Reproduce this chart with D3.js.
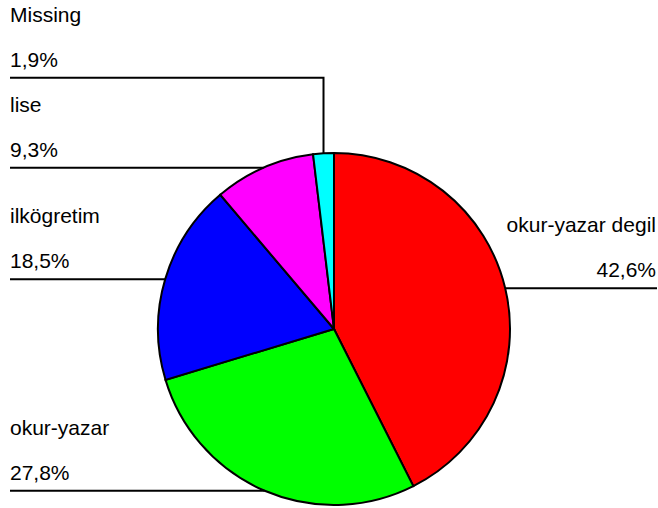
<!DOCTYPE html>
<meta charset="utf-8">
<title>Egitim durumu</title>
<style>

body {
  margin: 0;
  background: #fff;
  font-family: Arial, "Liberation Sans", Helvetica, sans-serif;
}

svg text {
  font-size: 21px;
  fill: #000;
}

.slice {
  stroke: #000;
  stroke-width: 2px;
}

.leader {
  fill: none;
  stroke: #000;
  stroke-width: 2px;
}

</style>

<body>
  <div id='graph'></div>
</body>

<script src="https://cdn.jsdelivr.net/npm/d3@7/dist/d3.min.js"></script>
<script>

var categories = ['okur-yazar degil', 'okur-yazar', 'ilkögretim', 'lise', 'Missing'],
    values     = [42.6, 27.8, 18.5, 9.3, 1.9],
    colors     = ['#ff0000', '#00ff00', '#0000ff', '#ff00ff', '#00ffff']

var width = 658, height = 508,
    cx = 334, cy = 329, r = 176,
    leftX = 10, rightX = 657, minGap = 90,
    fmt = function(v){ return d3.format('.1f')(v).replace('.', ',') + '%' }

var svg = d3.select('#graph').append('svg')
    .attr('width', width)
    .attr('height', height)

var data = categories.map(function(c, i){
  return {name: c, value: values[i], color: colors[i]}
})

var pie = d3.pie().sort(null).value(function(d){ return d.value }),
    arc = d3.arc().innerRadius(0).outerRadius(r),
    arcs = pie(data)

var g = svg.append('g').attr('transform', 'translate(' + cx + ',' + cy + ')')

g.selectAll('path.slice')
  .data(arcs)
  .enter().append('path')
    .attr('class', 'slice')
    .attr('fill', function(d){ return d.data.color })
    .attr('d', arc)

// anchor on the rim at the middle of each slice
arcs.forEach(function(d){
  var a = (d.startAngle + d.endAngle)/2
  d.ax = cx + r*Math.sin(a)
  d.ay = cy - r*Math.cos(a)
  d.left = d.ax < cx
  d.ly = d.ay
})

// push left labels upward so they keep apart
var left = arcs.filter(function(d){ return d.left })
  .sort(function(a, b){ return b.ay - a.ay })
left.forEach(function(d, i){
  if (i > 0) d.ly = Math.min(d.ay, left[i - 1].ly - minGap)
})

svg.selectAll('path.leader')
  .data(arcs)
  .enter().append('path')
    .attr('class', 'leader')
    .attr('d', function(d){
      var x0 = d.left ? leftX : rightX
      if (d.ly === d.ay) return 'M' + x0 + ',' + d.ly + 'H' + d.ax
      return 'M' + x0 + ',' + d.ly + 'H' + d.ax + 'V' + d.ay
    })

var lab = svg.selectAll('g.label')
  .data(arcs)
  .enter().append('g')
    .attr('class', 'label')
    .attr('text-anchor', function(d){ return d.left ? 'start' : 'end' })

lab.append('text')
    .attr('x', function(d){ return d.left ? leftX : rightX - 1 })
    .attr('y', function(d){ return d.ly - 56 })
    .text(function(d){ return d.data.name })

lab.append('text')
    .attr('x', function(d){ return d.left ? leftX : rightX - 1 })
    .attr('y', function(d){ return d.ly - 11 })
    .text(function(d){ return fmt(d.data.value) })

</script>
